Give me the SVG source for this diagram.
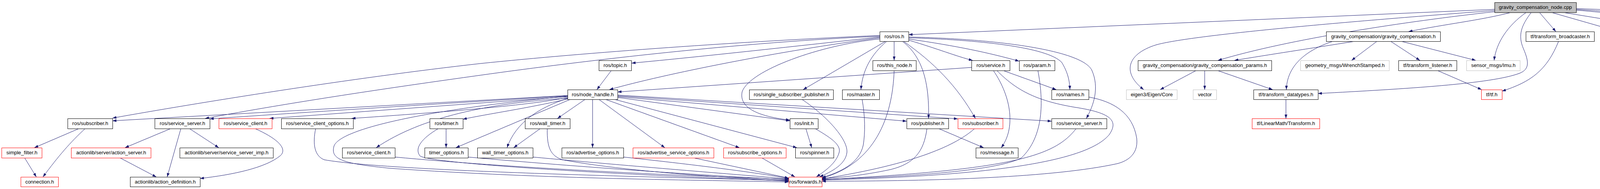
<svg xmlns="http://www.w3.org/2000/svg" width="4987" height="485" viewBox="0 0 4987 485">
<defs>
<marker id="a" viewBox="0 0 10 7" refX="10" refY="3.5" markerWidth="10" markerHeight="7" markerUnits="userSpaceOnUse" orient="auto"><path d="M0,0 L10,3.5 L0,7 Z" fill="#191970"/></marker>
<style>
.nd rect{fill:#fff;stroke:#000;stroke-width:1}
.nd.r rect{stroke:#ff0000}
.nd.g rect{stroke:#bfbfbf}
.nd.root rect{fill:#bfbfbf}
.nd text{font-family:"Liberation Sans",Arial,Helvetica,sans-serif;font-size:13px;text-anchor:middle;fill:#000}
#edges path{fill:none;stroke:#191970;stroke-width:1;marker-end:url(#a)}
</style>
</defs>
<rect width="4987" height="485" fill="#fff"/>
<g id="edges">
<path d="M3826,24 L2326,89"/>
<path d="M3826,27 C3450,55 3050,90 2960,115 C2880,140 2875,190 2928,230"/>
<path d="M3826,30 C3600,55 3300,100 3118,155"/>
<path d="M3868,32 C3790,52 3700,62 3606,81"/>
<path d="M3907,32 C3860,65 3830,110 3825,155"/>
<path d="M3920,32 C3895,65 3885,90 3900,125 C3915,160 3915,178 3890,188 C3820,215 3600,228 3374,240"/>
<path d="M3941,32 L3983,81"/>
<path d="M3972,32 L4143,81"/>
<path d="M4002,32 L4302,81"/>
<path d="M4035,26 C4200,40 4380,62 4483,81"/>
<path d="M4035,24 C4300,42 4550,60 4712,81"/>
<path d="M4035,22 C4400,35 4700,60 4856,81"/>
<path d="M2252,95 C2050,117 1800,145 1617,162"/>
<path d="M2252,97 C2000,130 1700,190 1560,230"/>
<path d="M2252,91 C1900,106 1500,135 1230,163 C900,200 500,265 288,303"/>
<path d="M2252,93 C1900,108 1500,155 1230,193 C1000,225 750,262 525,304"/>
<path d="M2289,106 L2289,155"/>
<path d="M2270,106 C2230,140 2208,180 2204,230"/>
<path d="M2267,106 L2056,230"/>
<path d="M2252,100 C2100,115 1920,180 1900,235 C1890,280 1950,300 2022,308"/>
<path d="M2310,106 C2355,140 2380,200 2377,304"/>
<path d="M2313,106 C2390,160 2450,220 2497,304"/>
<path d="M2326,103 C2400,125 2450,145 2490,155"/>
<path d="M2326,100 C2450,118 2530,135 2609,157"/>
<path d="M2326,97 C2500,102 2680,120 2718,160 C2733,185 2738,205 2739,230"/>
<path d="M2326,95 C2560,100 2770,130 2795,180 C2815,225 2800,270 2781,304"/>
<path d="M3468,106 C3350,125 3250,140 3160,155"/>
<path d="M3412,106 C3340,130 3295,170 3293,230"/>
<path d="M3525,106 L3460,155"/>
<path d="M3560,106 L3635,155"/>
<path d="M3587,106 L3778,155"/>
<path d="M3680,181 L3793,230"/>
<path d="M3990,106 C3960,180 3920,210 3845,234"/>
<path d="M3062,181 L2970,230"/>
<path d="M3084,181 L3084,230"/>
<path d="M3117,181 L3258,230"/>
<path d="M3292,255 L3292,304"/>
<path d="M2487,173 L1581,236"/>
<path d="M1565,181 L1528,230"/>
<path d="M2568,181 L2704,230"/>
<path d="M2543,181 C2590,250 2600,330 2563,379"/>
<path d="M2403,330 L2518,379"/>
<path d="M1453,245 L288,310"/>
<path d="M1453,246 C1200,262 900,280 537,305"/>
<path d="M1453,248 L690,304"/>
<path d="M1453,250 C1350,272 1100,290 900,304"/>
<path d="M1453,252 C1250,265 1080,300 963,379"/>
<path d="M1453,254 C1350,278 1250,292 1185,306"/>
<path d="M1460,255 L1167,379"/>
<path d="M1455,252 C1380,275 1320,315 1298,379"/>
<path d="M1498,255 L1427,304"/>
<path d="M1517,255 L1517,379"/>
<path d="M1533,255 L1702,379"/>
<path d="M1550,255 L1893,379"/>
<path d="M1573,255 L2040,379"/>
<path d="M1581,250 L2022,310"/>
<path d="M1581,248 L2321,311"/>
<path d="M1581,246 L2452,305"/>
<path d="M1581,244 L2692,311"/>
<path d="M1453,247 C1100,280 870,330 855,375 C845,410 880,420 1000,432 C1400,460 1800,462 2019,467"/>
<path d="M808,330 C800,370 805,400 830,410 C1000,440 1700,455 2019,463"/>
<path d="M1011,403 C1300,430 1700,450 2019,460"/>
<path d="M1122,330 C1080,355 1060,380 1075,400 C1100,420 1600,450 2019,464"/>
<path d="M1198,403 C1500,430 1800,450 2019,461"/>
<path d="M1364,403 C1600,425 1850,445 2019,459"/>
<path d="M1401,330 C1400,380 1410,400 1440,410 C1600,440 1850,455 2019,465"/>
<path d="M1596,403 C1800,425 1950,445 2019,458"/>
<path d="M1775,405 L2019,457"/>
<path d="M1950,405 L2035,454"/>
<path d="M2087,330 C2120,350 2155,370 2148,392 C2140,420 2110,440 2090,454"/>
<path d="M2053,255 C2120,300 2172,360 2168,392 C2164,422 2130,440 2098,454"/>
<path d="M2207,255 C2215,300 2215,340 2210,372 C2200,420 2150,442 2104,456"/>
<path d="M2289,181 C2285,300 2240,420 2104,457"/>
<path d="M2373,330 C2365,390 2340,420 2280,435 C2200,452 2150,455 2104,458"/>
<path d="M2495,330 C2450,370 2350,420 2104,459"/>
<path d="M2552,181 C2600,230 2650,258 2750,275 C2850,290 2862,312 2840,345 C2780,420 2500,452 2104,462"/>
<path d="M2657,181 C2672,260 2672,350 2615,405 C2550,440 2300,455 2104,460"/>
<path d="M2755,330 C2700,400 2600,435 2104,461"/>
<path d="M2787,249 C2850,260 2900,290 2910,355 C2915,400 2880,415 2860,420 C2700,455 2400,465 2104,465"/>
<path d="M437,330 L320,379"/>
<path d="M463,330 L428,454"/>
<path d="M485,330 L560,379"/>
<path d="M307,405 L400,454"/>
<path d="M653,330 C720,360 735,385 717,400 C680,430 600,448 512,458"/>
<path d="M202,330 L88,379"/>
<path d="M218,330 C180,365 150,400 110,454"/>
<path d="M63,405 L93,454"/>
<path d="M1142,330 L1142,379"/>
<path d="M1383,330 L1315,379"/>
<path d="M2063,330 L2078,379"/>
</g>
<g id="n0" class="nd root"><rect x="3826.5" y="6.5" width="209" height="26"/><text x="3930.5" y="23">gravity_compensation_node.cpp</text></g>
<g id="n1" class="nd"><rect x="2252.5" y="81.5" width="74" height="25"/><text x="2289.5" y="98">ros/ros.h</text></g>
<g id="n2" class="nd"><rect x="3395.5" y="81.5" width="292" height="25"/><text x="3541.5" y="98">gravity_compensation/gravity_compensation.h</text></g>
<g id="n3" class="nd"><rect x="3906.5" y="81.5" width="175" height="25"/><text x="3994" y="98">tf/transform_broadcaster.h</text></g>
<g id="n4" class="nd g"><rect x="4104.5" y="81.5" width="159" height="25"/><text x="4184" y="98">eigen3/Eigen/Geometry</text></g>
<g id="n5" class="nd"><rect x="4288.5" y="81.5" width="168" height="25"/><text x="4372.5" y="98">tf_conversions/tf_eigen.h</text></g>
<g id="n6" class="nd"><rect x="4480.5" y="81.5" width="208" height="25"/><text x="4584.5" y="98">eigen_conversions/eigen_msg.h</text></g>
<g id="n7" class="nd g"><rect x="4712.5" y="81.5" width="119" height="25"/><text x="4772" y="98">boost/thread.hpp</text></g>
<g id="n8" class="nd g"><rect x="4856.5" y="81.5" width="125" height="25"/><text x="4919" y="98">std_srvs/Empty.h</text></g>
<g id="n9" class="nd"><rect x="1533.5" y="155.5" width="83" height="26"/><text x="1575" y="172">ros/topic.h</text></g>
<g id="n10" class="nd"><rect x="2234.5" y="155.5" width="111" height="26"/><text x="2290" y="172">ros/this_node.h</text></g>
<g id="n11" class="nd"><rect x="2487.5" y="155.5" width="98" height="26"/><text x="2536.5" y="172">ros/service.h</text></g>
<g id="n12" class="nd"><rect x="2609.5" y="155.5" width="91" height="26"/><text x="2655" y="172">ros/param.h</text></g>
<g id="n13" class="nd"><rect x="2913.5" y="155.5" width="342" height="26"/><text x="3084.5" y="172">gravity_compensation/gravity_compensation_params.h</text></g>
<g id="n14" class="nd g"><rect x="3329.5" y="155.5" width="227" height="26"/><text x="3443" y="172">geometry_msgs/WrenchStamped.h</text></g>
<g id="n15" class="nd"><rect x="3580.5" y="155.5" width="149" height="26"/><text x="3655" y="172">tf/transform_listener.h</text></g>
<g id="n16" class="nd g"><rect x="3754.5" y="155.5" width="137" height="26"/><text x="3823" y="172">sensor_msgs/Imu.h</text></g>
<g id="n17" class="nd"><rect x="1453.5" y="230.5" width="128" height="25"/><text x="1517.5" y="247">ros/node_handle.h</text></g>
<g id="n18" class="nd"><rect x="1918.5" y="230.5" width="215" height="25"/><text x="2026" y="247">ros/single_subscriber_publisher.h</text></g>
<g id="n19" class="nd"><rect x="2156.5" y="230.5" width="95" height="25"/><text x="2204" y="247">ros/master.h</text></g>
<g id="n20" class="nd"><rect x="2692.5" y="230.5" width="95" height="25"/><text x="2740" y="247">ros/names.h</text></g>
<g id="n21" class="nd g"><rect x="2883.5" y="230.5" width="130" height="25"/><text x="2948.5" y="247">eigen3/Eigen/Core</text></g>
<g id="n22" class="nd g"><rect x="3054.5" y="230.5" width="60" height="25"/><text x="3084.5" y="247">vector</text></g>
<g id="n23" class="nd"><rect x="3209.5" y="230.5" width="165" height="25"/><text x="3292" y="247">tf/transform_datatypes.h</text></g>
<g id="n24" class="nd r"><rect x="3792.5" y="230.5" width="53" height="25"/><text x="3819" y="247">tf/tf.h</text></g>
<g id="n25" class="nd"><rect x="173.5" y="304.5" width="115" height="26"/><text x="231" y="321">ros/subscriber.h</text></g>
<g id="n26" class="nd"><rect x="396.5" y="304.5" width="141" height="26"/><text x="467" y="321">ros/service_server.h</text></g>
<g id="n27" class="nd r"><rect x="560.5" y="304.5" width="136" height="26"/><text x="628.5" y="321">ros/service_client.h</text></g>
<g id="n28" class="nd"><rect x="720.5" y="304.5" width="184" height="26"/><text x="812.5" y="321">ros/service_client_options.h</text></g>
<g id="n29" class="nd"><rect x="1100.5" y="304.5" width="85" height="26"/><text x="1143" y="321">ros/timer.h</text></g>
<g id="n30" class="nd"><rect x="1344.5" y="304.5" width="115" height="26"/><text x="1402" y="321">ros/wall_timer.h</text></g>
<g id="n31" class="nd"><rect x="2022.5" y="304.5" width="72" height="26"/><text x="2058.5" y="321">ros/init.h</text></g>
<g id="n32" class="nd"><rect x="2321.5" y="304.5" width="107" height="26"/><text x="2375" y="321">ros/publisher.h</text></g>
<g id="n33" class="nd r"><rect x="2452.5" y="304.5" width="115" height="26"/><text x="2510" y="321">ros/subscriber.h</text></g>
<g id="n34" class="nd"><rect x="2692.5" y="304.5" width="141" height="26"/><text x="2763" y="321">ros/service_server.h</text></g>
<g id="n35" class="nd r"><rect x="3205.5" y="304.5" width="173" height="26"/><text x="3292" y="321">tf/LinearMath/Transform.h</text></g>
<g id="n36" class="nd r"><rect x="4.5" y="379.5" width="103" height="26"/><text x="56" y="396">simple_filter.h</text></g>
<g id="n37" class="nd r"><rect x="182.5" y="379.5" width="204" height="26"/><text x="284.5" y="396">actionlib/server/action_server.h</text></g>
<g id="n38" class="nd"><rect x="460.5" y="379.5" width="239" height="26"/><text x="580" y="396">actionlib/server/service_server_imp.h</text></g>
<g id="n39" class="nd"><rect x="876.5" y="379.5" width="135" height="26"/><text x="944" y="396">ros/service_client.h</text></g>
<g id="n40" class="nd"><rect x="1087.5" y="379.5" width="111" height="26"/><text x="1143" y="396">timer_options.h</text></g>
<g id="n41" class="nd"><rect x="1222.5" y="379.5" width="142" height="26"/><text x="1293.5" y="396">wall_timer_options.h</text></g>
<g id="n42" class="nd"><rect x="1438.5" y="379.5" width="158" height="26"/><text x="1517.5" y="396">ros/advertise_options.h</text></g>
<g id="n43" class="nd r"><rect x="1620.5" y="379.5" width="207" height="26"/><text x="1724" y="396">ros/advertise_service_options.h</text></g>
<g id="n44" class="nd r"><rect x="1852.5" y="379.5" width="160" height="26"/><text x="1932.5" y="396">ros/subscribe_options.h</text></g>
<g id="n45" class="nd"><rect x="2036.5" y="379.5" width="98" height="26"/><text x="2085.5" y="396">ros/spinner.h</text></g>
<g id="n46" class="nd"><rect x="2498.5" y="379.5" width="108" height="26"/><text x="2552.5" y="396">ros/message.h</text></g>
<g id="n47" class="nd r"><rect x="53.5" y="454.5" width="96" height="25"/><text x="101.5" y="471">connection.h</text></g>
<g id="n48" class="nd"><rect x="333.5" y="454.5" width="179" height="25"/><text x="423" y="471">actionlib/action_definition.h</text></g>
<g id="n49" class="nd r"><rect x="2019.5" y="454.5" width="85" height="25"/><text x="2062" y="471">ros/forwards.h</text></g>
</svg>
